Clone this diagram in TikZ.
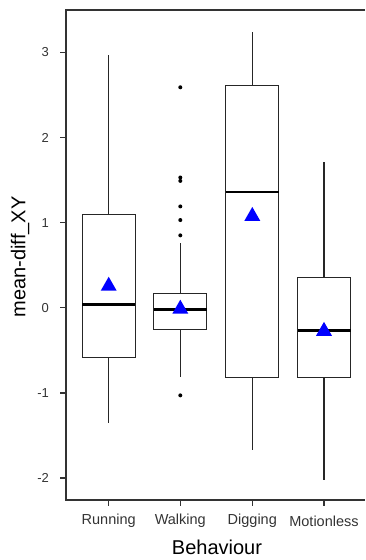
\documentclass[tikz,border=0pt]{standalone}
\usepackage{fontspec}
\setmainfont{Liberation Sans}

\tikzset{
  boxline/.style={draw=black!85, line width=1.1pt},
  medline/.style={draw=black, line width=2.6pt},
  meanmark/.style={fill=blue},
  outdot/.style={fill=black},
  axisline/.style={draw=black!80, line width=1.4pt},
  ticklab/.style={font=\fontsize{13}{13}\selectfont, text=black!80},
  catlab/.style={font=\fontsize{14.5}{14.5}\selectfont, text=black!80}
}

\begin{document}
\begin{tikzpicture}[x=1pt, y=1pt]
\useasboundingbox (0,0) rectangle (365,-560);
% frame
\draw[axisline] (365,-10) -- (66,-10) -- (66,-500) -- (365,-500);
\begin{scope}[shift={(0,-307.7)}, y=85.1pt]
% y ticks
\foreach \v in {-2,...,3}
  \draw[axisline] (60,\v) -- (66,\v) node[ticklab, anchor=east, xshift=-7pt] at (60,\v) {\v};
% boxes: x / low / q1 / median / q3 / high / mean
\foreach \x/\lo/\qa/\md/\qb/\hi/\mn in {108.7/-1.35/-0.58/0.04/1.10/2.97/0.27,
    180.3/-0.81/-0.26/-0.02/0.17/0.76/0.0,
    252.3/-1.67/-0.82/1.36/2.61/3.24/1.09,
    324/-2.02/-0.82/-0.27/0.36/1.71/-0.26} {
  \draw[boxline] (\x,\lo) -- (\x,\qa);
  \draw[boxline] (\x,\qb) -- (\x,\hi);
  \draw[boxline] (\x-26.5,\qa) rectangle (\x+26.5,\qb);
  \draw[medline] (\x-26.5,\md) -- (\x+26.5,\md);
  \fill[meanmark] (\x,\mn) ++(-8pt,-6pt) -- ++(16pt,0) -- ++(-8pt,14pt) -- cycle;
}
% outliers
\foreach \v in {2.59,1.53,1.49,1.19,1.03,0.85,-1.03}
  \fill[outdot] (180.3,\v) circle (2pt);
\end{scope}
% x ticks and labels
\foreach \x/\lab in {108.7/Running, 180.3/Walking, 252.3/Digging, 324/Motionless} {
  \draw[axisline] (\x,-500) -- (\x,-506);
  \node[catlab] at (\x,-521) {\lab};
}
\node[font=\fontsize{20}{20}\selectfont] (xlab) at (217,-547) {Behaviour};
\node[font=\fontsize{20}{20}\selectfont, rotate=90] (ylab) at (20,-257) {mean-diff\_XY};
\end{tikzpicture}
\end{document}
